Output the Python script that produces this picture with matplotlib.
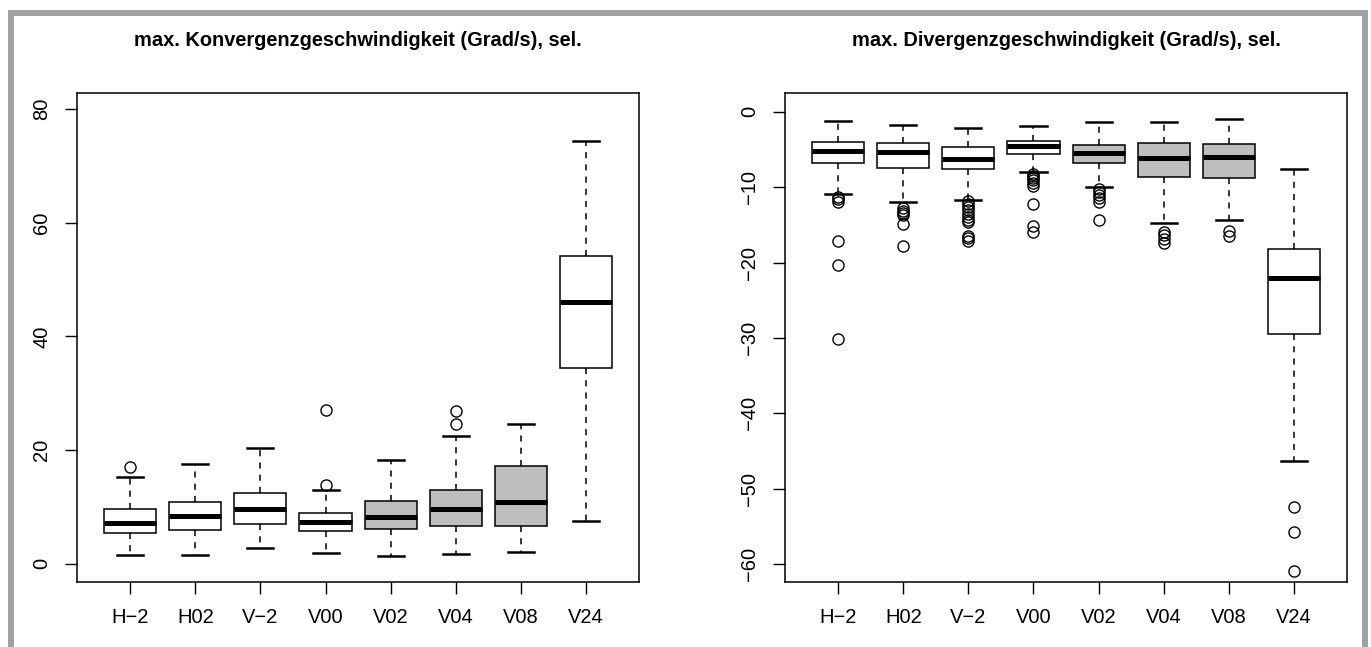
import matplotlib

matplotlib.use("Agg")
import matplotlib.pyplot as plt
from matplotlib.patches import Rectangle

plt.rcParams["font.family"] = ["Liberation Sans", "DejaVu Sans"]

groups = ["H\u22122", "H02", "V\u22122", "V00", "V02", "V04", "V08", "V24"]
shaded = [False, False, False, False, True, True, True, False]

# left panel: max. convergence speed
conv_whislo = [1.6, 1.6, 2.7, 1.9, 1.4, 1.8, 2.1, 7.6]
conv_q1 = [5.4, 6.0, 7.0, 5.8, 6.1, 6.7, 6.6, 34.4]
conv_med = [7.2, 8.4, 9.6, 7.3, 8.3, 9.7, 10.9, 46.1]
conv_q3 = [9.7, 10.9, 12.5, 9.0, 11.1, 13.0, 17.2, 54.2]
conv_whishi = [15.3, 17.5, 20.4, 13.0, 18.2, 22.5, 24.5, 74.3]
conv_fliers = [[17.1], [], [], [13.9, 27.0], [], [24.5, 26.8], [], []]

# right panel: max. divergence speed
div_whislo = [-10.9, -12.0, -11.7, -8.0, -10.0, -14.7, -14.4, -46.3]
div_q1 = [-6.8, -7.4, -7.6, -5.6, -6.8, -8.6, -8.8, -29.5]
div_med = [-5.2, -5.4, -6.2, -4.6, -5.5, -6.1, -6.0, -22.1]
div_q3 = [-4.0, -4.2, -4.7, -3.9, -4.4, -4.1, -4.3, -18.2]
div_whishi = [-1.2, -1.7, -2.1, -1.9, -1.3, -1.3, -1.0, -7.6]
div_fliers = [
    [-11.3, -11.6, -12.0, -17.1, -20.3, -30.1],
    [-12.8, -13.1, -13.4, -13.7, -14.9, -17.8],
    [-11.9, -12.2, -12.6, -13.0, -13.5, -13.9, -14.3, -14.6, -16.5, -16.8, -17.1],
    [-8.2, -8.5, -8.8, -9.1, -9.5, -9.9, -12.2, -15.2, -16.0],
    [-10.3, -10.7, -11.1, -11.5, -12.0, -14.3],
    [-15.9, -16.4, -16.9, -17.4],
    [-15.8, -16.5],
    [-52.4, -55.8, -60.9],
]

titles = [
    "max. Konvergenzgeschwindigkeit (Grad/s), sel.",
    "max. Divergenzgeschwindigkeit (Grad/s), sel.",
]


def _stats(lo, q1, med, q3, hi, fl):
    return [
        dict(whislo=a, q1=b, med=c, q3=d, whishi=e, fliers=f, label=g)
        for a, b, c, d, e, f, g in zip(lo, q1, med, q3, hi, fl, groups)
    ]


def draw(ax, stats, ylim, yticks):
    bp = ax.bxp(
        stats,
        widths=0.8,
        capwidths=0.4,
        patch_artist=True,
        boxprops=dict(edgecolor="black", linewidth=1.1),
        medianprops=dict(color="black", linewidth=3.6, solid_capstyle="butt"),
        whiskerprops=dict(color="black", linewidth=1.1, linestyle=(0, (4, 4))),
        capprops=dict(color="black", linewidth=1.8),
        flierprops=dict(marker="o", markerfacecolor="none", markeredgecolor="black",
                        markersize=8, markeredgewidth=1.0),
    )
    for patch, sh in zip(bp["boxes"], shaded):
        patch.set_facecolor("#BEBEBE" if sh else "white")
    ax.set_xlim(0.18, 8.82)
    ax.set_ylim(*ylim)
    ax.set_yticks(yticks)
    ax.set_yticklabels([f"{t:g}".replace("-", "\u2212") for t in yticks],
                       rotation=90, va="center")
    ax.tick_params(axis="both", length=8.6, width=1.0, pad=10, labelsize=14.5)
    for s in ax.spines.values():
        s.set_linewidth(1.1)


fig = plt.figure(figsize=(13.71, 6.47), dpi=100)
ax1 = fig.add_axes([0.0562, 0.1005, 0.4099, 0.7558])
ax2 = fig.add_axes([0.5726, 0.1005, 0.4099, 0.7558])

draw(ax1, _stats(conv_whislo, conv_q1, conv_med, conv_q3, conv_whishi, conv_fliers),
     (-3.2, 82.8), [0, 20, 40, 60, 80])
draw(ax2, _stats(div_whislo, div_q1, div_med, div_q3, div_whishi, div_fliers),
     (-62.4, 2.5), [0, -10, -20, -30, -40, -50, -60])

for ax, t in zip([ax1, ax2], titles):
    bb = ax.get_position()
    fig.text((bb.x0 + bb.x1) / 2, 1 - 40 / 647, t, ha="center", va="center",
             fontsize=14.4, fontweight="bold")

# grey frame around the figure (top, left, right)
grey = "#A0A0A0"
W, H = 1371, 647
for x, y, w, h in [(8, 10, 1360, 6), (8, 10, 6, 637), (1362, 10, 6, 637)]:
    fig.add_artist(Rectangle((x / W, 1 - (y + h) / H), w / W, h / H,
                             transform=fig.transFigure, color=grey, lw=0))

fig.savefig("out.png", dpi=100)
